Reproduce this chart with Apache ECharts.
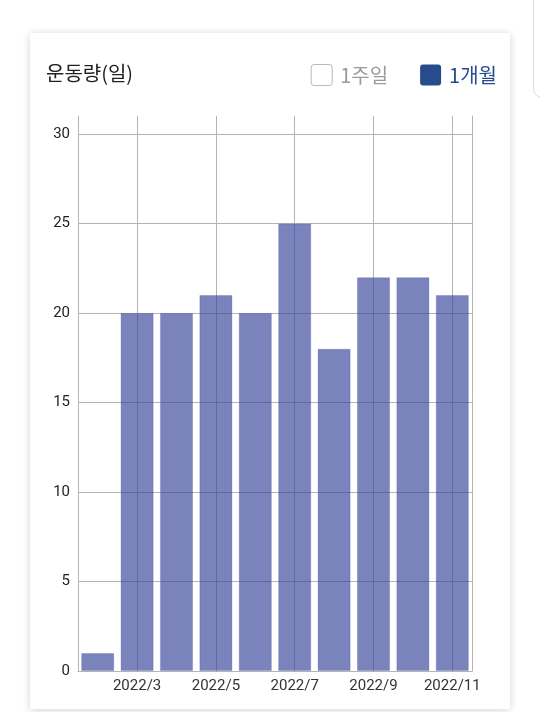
<!DOCTYPE html>
<html>
<head>
<meta charset="utf-8">
<script src="https://cdn.jsdelivr.net/npm/echarts@6/dist/echarts.min.js"></script>
<style>
  html, body { margin: 0; padding: 0; background: #fff; width: 540px; height: 712px; overflow: hidden; position: relative; }
  #side { position: absolute; left: 533px; top: -20px; width: 40px; height: 116px; border: 1px solid #dcdcdc; border-radius: 9px; background: #fff; }
  #card { position: absolute; left: 30px; top: 33px; width: 480px; height: 676px; background: #fff; box-shadow: 0 1px 8px rgba(0,0,0,0.18); }
</style>
</head>
<body>
<div id="side"></div>
<div id="card"></div>
<script>
const titleText = '운동량(일)';
const legendNames = ['1주일', '1개월'];
const categories = ['2022/2', '2022/3', '2022/4', '2022/5', '2022/6', '2022/7', '2022/8', '2022/9', '2022/10', '2022/11'];
const monthValues = [1, 20, 20, 21, 20, 25, 18, 22, 22, 21];
const yTicks = [5, 10, 15, 20, 25, 30];
const xGridCategories = ['2022/3', '2022/5', '2022/7', '2022/9', '2022/11'];

const gridColor = '#b4b4b4';
const chart = echarts.init(document.getElementById('card'), null, { renderer: 'canvas' });
const labelFont = 'Roboto, "Noto Sans CJK KR", sans-serif';
const krFont = '"Noto Sans CJK KR", Roboto, sans-serif';
const boxIcon = 'path://M3,0 H18 A3,3 0 0 1 21,3 V18 A3,3 0 0 1 18,21 H3 A3,3 0 0 1 0,18 V3 A3,3 0 0 1 3,0 Z';

chart.setOption({
  animation: false,
  title: {
    text: titleText,
    left: 11,
    top: 25,
    textStyle: { fontSize: 20, fontWeight: 'normal', color: '#222', fontFamily: krFont }
  },
  legend: {
    right: 8,
    top: 26,
    itemWidth: 21,
    itemHeight: 21,
    itemGap: 32,
    icon: boxIcon,
    selectedMode: false,
    textStyle: { fontSize: 20, padding: [0, 0, 0, 3], fontFamily: krFont },
    data: [
      { name: legendNames[0], itemStyle: { color: '#fff', borderColor: '#b8b8b8', borderWidth: 1 }, textStyle: { color: '#9a9a9a' } },
      { name: legendNames[1], itemStyle: { color: '#284b8c', borderWidth: 0 }, textStyle: { color: '#284b8c' } }
    ]
  },
  grid: { left: 48, right: 38, top: 83, bottom: 38, containLabel: false },
  xAxis: {
    type: 'category',
    data: categories,
    boundaryGap: true,
    axisLine: { show: true, lineStyle: { color: gridColor, width: 1 } },
    axisTick: { show: false },
    splitLine: { show: false },
    axisLabel: {
      interval: (i) => i % 2 === 1,
      color: '#333',
      fontSize: 15,
      margin: 8,
      fontFamily: labelFont
    }
  },
  yAxis: [
    {
      type: 'value',
      min: 0,
      max: 31,
      interval: 5,
      axisLine: { show: true, lineStyle: { color: gridColor, width: 1 } },
      axisTick: { show: false },
      splitLine: { show: false },
      axisLabel: { showMaxLabel: false, color: '#222', fontSize: 15, margin: 8, fontFamily: labelFont }
    },
    {
      type: 'value',
      position: 'right',
      min: 0,
      max: 31,
      interval: 5,
      axisLine: { show: true, lineStyle: { color: gridColor, width: 1 } },
      axisTick: { show: false },
      splitLine: { show: false },
      axisLabel: { show: false }
    }
  ],
  series: [
    {
      name: 'gridlines',
      type: 'line',
      data: [],
      z: 1,
      silent: true,
      markLine: {
        z: 1,
        silent: true,
        symbol: 'none',
        animation: false,
        label: { show: false },
        lineStyle: { color: gridColor, width: 1, type: 'solid' },
        emphasis: { disabled: true },
        data: yTicks.map(v => ({ yAxis: v })).concat(xGridCategories.map(c => ({ xAxis: c })))
      }
    },
    {
      name: legendNames[0],
      type: 'line',
      data: []
    },
    {
      name: legendNames[1],
      type: 'bar',
      data: monthValues,
      z: 2,
      barCategoryGap: '16%',
      itemStyle: { color: 'rgba(50,64,150,0.65)', borderColor: 'rgba(50,64,150,0.22)', borderWidth: 1 }
    }
  ]
});
</script>
</body>
</html>
